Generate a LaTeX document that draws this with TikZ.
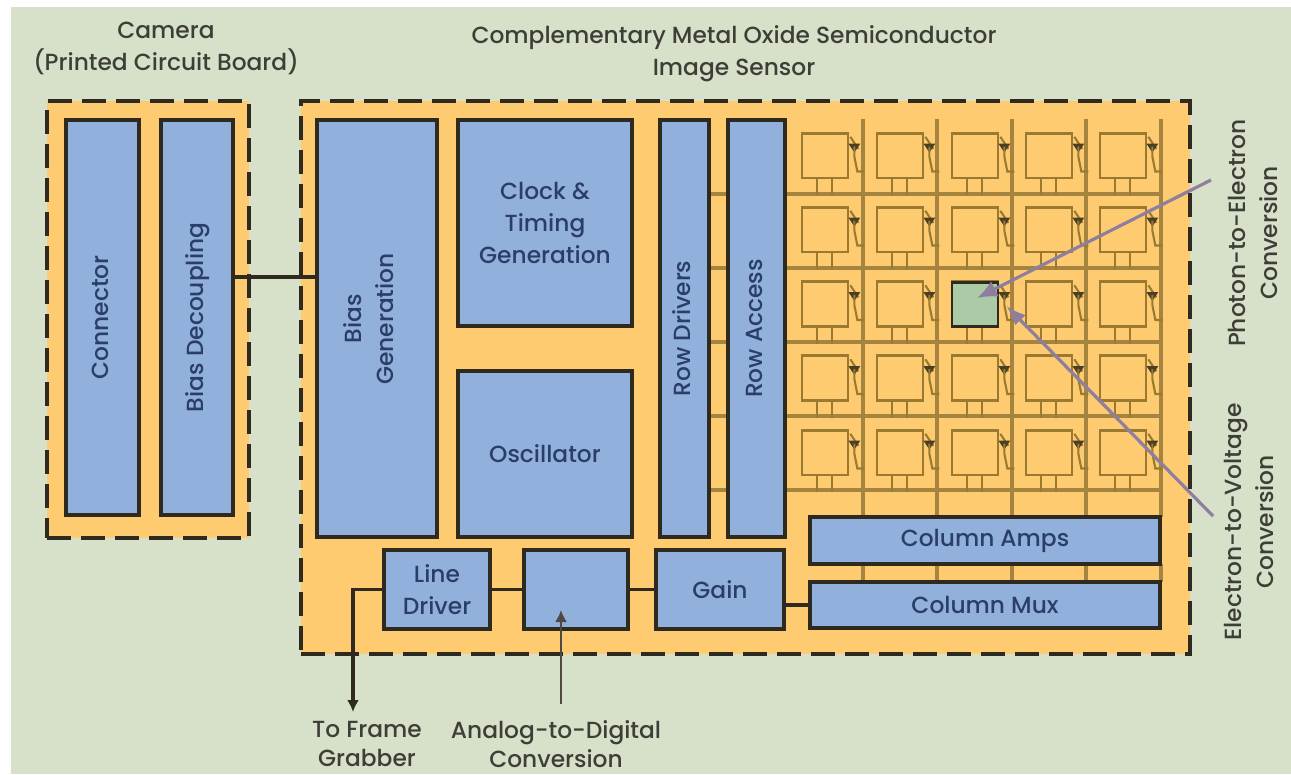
\documentclass[tikz,border=0pt]{standalone}
\usepackage{fontspec}
\setmainfont{Poppins Medium}
\usetikzlibrary{arrows.meta,calc}
\definecolor{bgg}{HTML}{D7E1C9}
\definecolor{org}{HTML}{FFCB70}
\definecolor{blu}{HTML}{92B0DC}
\definecolor{dk}{HTML}{2F2A20}
\definecolor{txb}{HTML}{2A3F68}
\definecolor{txo}{HTML}{3E3E38}
\definecolor{grd}{HTML}{A5843F}
\definecolor{cel}{HTML}{9A7A30}
\definecolor{grn}{HTML}{ABCBA6}
\definecolor{prp}{HTML}{8F7F9E}
\newcommand{\vtxt}[1]{\rotatebox{90}{\begin{tabular}{@{}c@{}}#1\end{tabular}}}
\tikzset{
 x=0.75pt,y=-0.75pt,
 zone/.style={draw=dk,fill=org,line width=2.6pt,dash pattern=on 18pt off 7.5pt},
 block/.style={draw=dk,fill=blu,line width=2.3pt,inner sep=0pt,text=txb,font=\fontsize{17.5}{24}\selectfont,align=center},
 captxt/.style={inner sep=0pt,text=txo,font=\fontsize{17.5}{24}\selectfont,align=center},
 lowtxt/.style={inner sep=0pt,text=txo,font=\fontsize{17.5}{21.5}\selectfont,align=center},
 sz/.style 2 args={minimum width=#1*0.75pt,minimum height=#2*0.75pt},
 pix/.style={draw=cel,fill=org,line width=2pt,inner sep=0pt,minimum width=34.5pt,minimum height=33.5pt},
 hot/.style={draw=dk,fill=grn,line width=2pt,inner sep=0pt,minimum width=34.5pt,minimum height=33pt},
 gridw/.style={draw=grd,line width=2.3pt},
 foot/.style={draw=cel,line width=1.8pt},
 tran/.style={draw=cel,line width=1.6pt},
 wire/.style={draw=dk,line width=1.6pt},
 wireb/.style={draw=dk,line width=2.4pt},
 prpl/.style={draw=prp,line width=2.4pt},
}
\begin{document}
\begin{tikzpicture}
\useasboundingbox (0,0) rectangle (1291,774);
\fill[white] (0,0) rectangle (1291,774);
\fill[bgg] (11,7) rectangle (1291,774);
% zones
\node[zone,sz={202}{437},inner sep=0pt] (camera) at (148,319.5) {};
\node[zone,sz={889}{553},inner sep=0pt] (sensor) at (745.5,377.5) {};
% grid coordinates
\foreach \i/\y in {1/194,2/268,3/342,4/416,5/490}{
  \coordinate (hl\i) at (709,\y);
  \coordinate (hm\i) at (728,\y);
  \coordinate (hn\i) at (785,\y);
  \coordinate (hr\i) at (1161,\y);
}
\foreach \j/\x in {1/863,2/937,3/1012,4/1086,5/1161}{
  \coordinate (vt\j) at (\x,119);
  \coordinate (vb\j) at (\x,517);
  \coordinate (vc\j) at (\x,564);
  \coordinate (vd\j) at (\x,582);
}
\foreach \i in {1,...,5}{
  \draw[gridw] (hl\i) -- (hm\i);
  \draw[gridw] (hn\i) -- (hr\i);
  \draw[gridw] (vt\i) -- (vb\i);
  \draw[gridw] (vc\i) -- (vd\i);
}
% pixels
\foreach \i/\y in {1/155.5,2/229.5,3/304,4/378,5/452.5}{
  \foreach \j/\x in {1/825,2/900,3/975,4/1049,5/1123}{
    \node[pix] (p\i\j) at (\x,\y) {};
    \coordinate (f\i\j) at ($(p\i\j.south)+(-8,0)$);
    \coordinate (g\i\j) at ($(p\i\j.south)+(7,0)$);
    \coordinate (t\i\j) at ($(p\i\j.east)+(5,-9)$);
    \coordinate (u\i\j) at ($(p\i\j.east)+(8,16)$);
    \coordinate (w\i\j) at ($(p\i\j.east)+(15,16)$);
    \draw[foot] (f\i\j) -- ++(0,16);
    \draw[foot] (g\i\j) -- ++(0,16);
    \draw[tran] (p\i\j.north east) ++(1,5) -- ++(8,12);
    \fill[dk!75!cel] (t\i\j) ++(-6,-3) -- ++(12,0) -- ++(-6,9) -- cycle;
    \draw[tran] (t\i\j) -- ++(0,10) -- (u\i\j) -- (w\i\j);
  }
}
\node[hot] (hotcell) at (975,304.5) {};
% blocks
\node[block,sz={73}{395}] (connector) at (102.5,317.5) {\vtxt{Connector}};
\node[block,sz={72}{395}] (decoupling) at (197,317.5) {\vtxt{Bias Decoupling}};
\node[block,sz={120}{417}] (biasgen) at (377,328.5) {};
\node[block,sz={174}{206}] (clock) at (545,223) {Clock \&\\Timing\\Generation};
\node[block,sz={174}{166}] (osc) at (545,454) {Oscillator};
\node[block,sz={49}{417}] (rowdrv) at (684.5,328.5) {\vtxt{Row Drivers}};
\node[block,sz={57}{417}] (rowacc) at (756.5,328.5) {\vtxt{Row Access}};
\node[block,sz={350}{47}] (amps) at (985,540.5) {Column Amps};
\node[block,sz={350}{46}] (mux) at (985,605) {Column Mux};
\node[block,sz={106}{79}] (linedrv) at (437,589.5) {Line\\Driver};
\node[block,sz={104}{79}] (adc) at (576,589.5) {};
\node[block,sz={128}{79}] (gain) at (720,589.5) {Gain};
\node[inner sep=0pt,text=txb,font=\fontsize{17.5}{24}\selectfont] (biastxt) at (371,319) {\vtxt{Bias\\Generation}};
% captions
\node[captxt] (cam) at (166,48) {Camera\\(Printed Circuit Board)};
\node[captxt] (cmos) at (734,54) {Complementary Metal Oxide Semiconductor\\Image Sensor};
\node[lowtxt] (grab) at (367,744) {To Frame\\Grabber};
\node[lowtxt] (a2d) at (556,744) {Analog-to-Digital\\Conversion};
\node[captxt] (p2e) at (1255,233) {\vtxt{Photon-to-Electron\\Conversion}};
\node[captxt] (e2v) at (1251,522) {\vtxt{Electron-to-Voltage\\Conversion}};
% wires
\coordinate (dy) at (0,277);
\draw[wireb] (decoupling.east |- dy) -- (biasgen.west |- dy);
\coordinate (fg) at (353,712);
\draw[wireb,-{Latex[length=9pt,width=9pt]}] (linedrv.west) -| (fg);
\draw[wire] (linedrv.east) -- (adc.west);
\draw[wire] (adc.east) -- (gain.west);
\draw[wireb] (gain.east |- mux.west) -- (mux.west);
\coordinate (adcsrc) at (561,704);
\coordinate (adctip) at (561,610);
\draw[wire,draw=dk!85,-{Latex[length=9pt,width=9pt]}] (adcsrc) -- (adctip);
\coordinate (ps) at (1211,180);
\coordinate (es) at (1213,516);
\draw[prpl,-{Latex[length=15pt,width=13pt]}] (ps) -- ($(hotcell.center)+(2,-6.5)$);
\draw[prpl,-{Latex[length=15pt,width=11pt]}] (es) -- ($(hotcell.south east)+(7,-22)$);
\end{tikzpicture}
\end{document}
